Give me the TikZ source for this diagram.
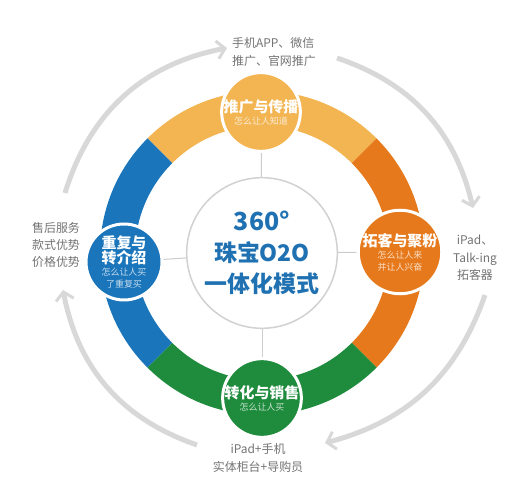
\documentclass[tikz,border=0pt]{standalone}
\usepackage{fontspec}
\setmainfont{Noto Sans CJK SC}
\usetikzlibrary{arrows.meta,backgrounds}
\definecolor{ylw}{RGB}{243,181,82}
\definecolor{org}{RGB}{230,121,27}
\definecolor{grn}{RGB}{30,139,61}
\definecolor{blu}{RGB}{26,117,187}
\definecolor{hubtext}{RGB}{31,113,178}
\definecolor{notegray}{RGB}{115,115,115}
\definecolor{arcgray}{RGB}{216,216,216}
\newcommand{\badgetitle}[1]{{\bfseries\fontsize{15}{17}\selectfont #1}}
\newcommand{\badgesub}[2]{{\fontsize{9}{10.5}\selectfont\color{white!75!#1}#2}}

\begin{document}
\begin{tikzpicture}[x=1bp, y=1bp,
	badge/.style = {circle, draw=white, line width=3bp, minimum size=76bp, inner sep=0pt, align=center, text=white},
	hub/.style = {circle, draw=black!18, line width=1.5bp, fill=white, minimum size=138bp, align=center, text=hubtext, font=\bfseries\fontsize{23}{31}\selectfont},
	note/.style = {align=center, text=notegray, font=\fontsize{12}{17.5}\selectfont},
	loop/.style = {arcgray, line width=5bp, -{Straight Barb[length=8bp, width=18bp, line width=3bp]}},
	spoke/.style = {draw=black!20, line width=1bp}]
	\useasboundingbox (0,0) rectangle (531,484);
	\coordinate (o) at (262,231);
	\node[hub] (0) at (o) {{\fontsize{25}{31}\selectfont 360°}\\珠宝O2O\\一体化模式};
	\node[badge, fill=ylw] (1) at (261,372) {\badgetitle{推广与传播}\\\badgesub{ylw}{怎么让人知道}};
	\node[badge, fill=org] (2) at (400,232) {\badgetitle{拓客与聚粉}\\\badgesub{org}{怎么让人来}\\\badgesub{org}{并让人兴奋}};
	\node[badge, fill=grn] (3) at (262,86) {\badgetitle{转化与销售}\\\badgesub{grn}{怎么让人买}};
	\node[badge, fill=blu] (4) at (124,222) {\badgetitle{重复与}\\\badgetitle{转介绍}\\\badgesub{blu}{怎么让人买}\\\badgesub{blu}{了重复买}};
	\begin{scope}[on background layer]
		\foreach \n in {1,...,4}
			\draw[spoke] (0) -- (\n);
		\foreach \a/\c in {45/ylw, -45/org, -135/grn, 135/blu}
			\fill[\c, shift={(o)}] (\a:162) arc[start angle=\a, delta angle=90, radius=162] -- ({\a+90}:127) arc[start angle={\a+90}, delta angle=-90, radius=127] -- cycle;
	\end{scope}
	\node[note, align=left] (a) at (274,432) {手机APP、微信\\推广、官网推广};
	\node[note] (b) at (475,226) {iPad、\\Talk-ing\\拓客器};
	\node[note] (c) at (258,26) {iPad+手机\\实体柜台+导购员};
	\node[note] (d) at (56,239) {售后服务\\款式优势\\价格优势};
	\coordinate (s1) at (65,291);  \coordinate (e1) at (227,436);
	\coordinate (s2) at (337,426); \coordinate (e2) at (473,276);
	\coordinate (s3) at (485,189); \coordinate (e3) at (325,41);
	\coordinate (s4) at (197,39);  \coordinate (e4) at (63,194);
	\draw[loop] (s1) to[bend left=31] (e1);
	\draw[loop] (s2) to[bend left=29] (e2);
	\draw[loop] (s3) to[bend left=28] (e3);
	\draw[loop] (s4) to[bend left=30] (e4);
\end{tikzpicture}
\end{document}
